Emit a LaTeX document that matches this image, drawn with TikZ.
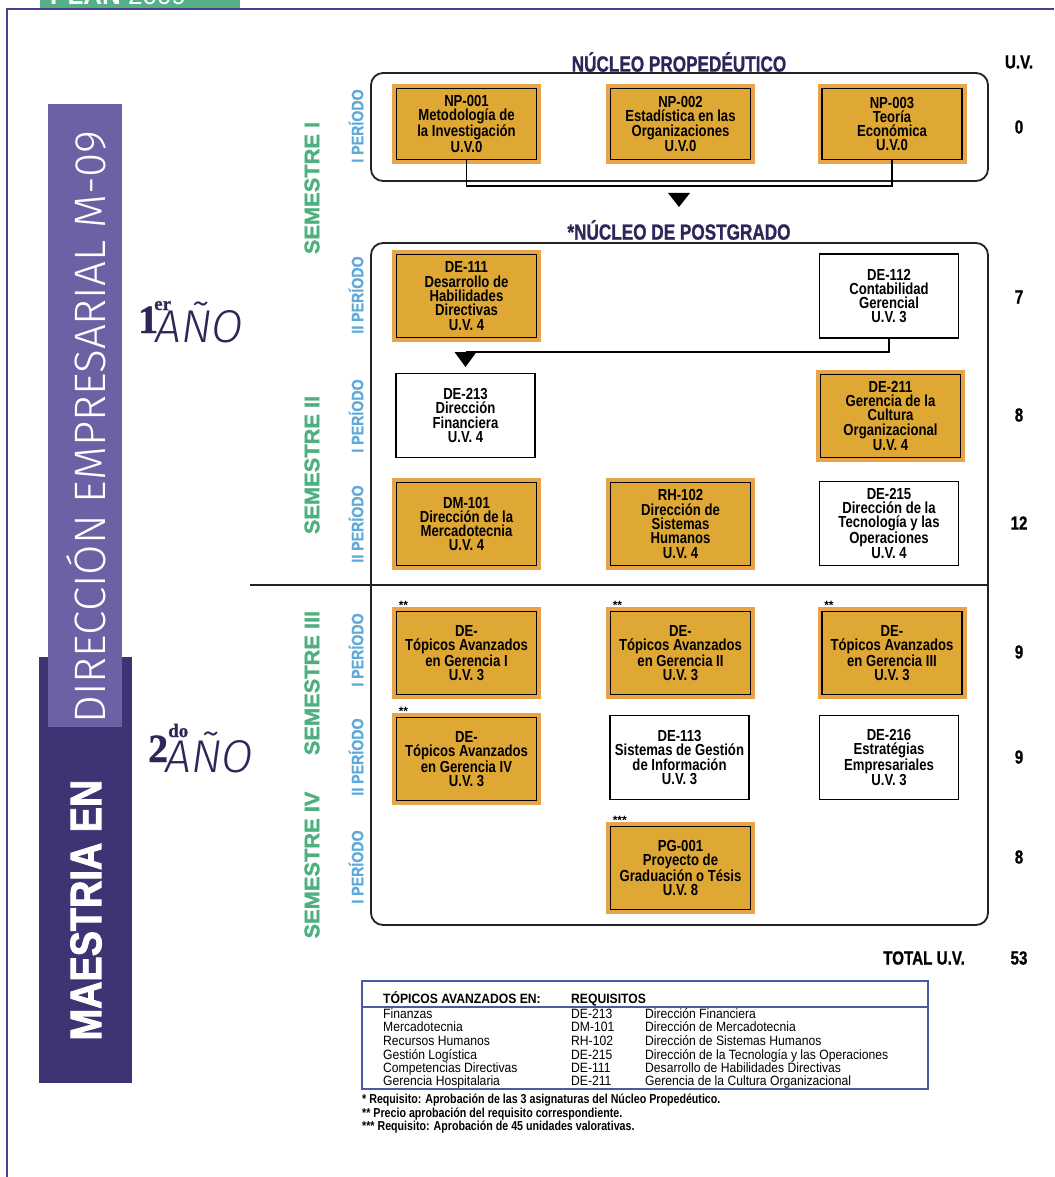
\documentclass[tikz,border=0pt]{standalone}
\usepackage{fontspec}
\usetikzlibrary{calc}
\setmainfont{Liberation Sans}
\newfontfamily\fCnd[FakeStretch=0.82]{Liberation Sans}
\newfontfamily\fTtl[FakeStretch=0.78,FakeBold=1]{Liberation Sans}
\newfontfamily\fUv[FakeStretch=0.80,FakeBold=0.8]{Liberation Sans}
\newfontfamily\fLeg[FakeStretch=0.90]{Liberation Sans}
\newfontfamily\fSem[FakeStretch=1.04,FakeBold=1.5]{Liberation Sans}
\newfontfamily\fPer[FakeStretch=0.86,FakeBold=1]{Liberation Sans}
\newfontfamily\fMae[FakeStretch=0.86,FakeBold=2]{Liberation Sans}
\newfontfamily\fThin{Fira Sans Light}
\newfontfamily\fThinIt{Fira Sans Light Italic}
\newfontfamily\fSer[FakeBold=1]{Liberation Serif}
\definecolor{orng}{HTML}{DFA835}
\definecolor{orngedge}{HTML}{E9A447}
\definecolor{semgreen}{HTML}{4DB07E}
\definecolor{perblue}{HTML}{5DA9DA}
\definecolor{dpurple}{HTML}{3E3474}
\definecolor{lpurple}{HTML}{6A62A5}
\definecolor{framec}{HTML}{4B3F91}
\definecolor{navy}{HTML}{2C2758}
\definecolor{legblue}{HTML}{4C5AA6}
\definecolor{tabgreen}{HTML}{55B185}
\definecolor{linec}{HTML}{222222}
\tikzset{
  boxtext/.style={align=center, inner sep=0pt, font=\fCnd\bfseries\fontsize{16}{14.3}\selectfont},
  obox/.style={boxtext, draw=black, line width=1.8pt, fill=orng, minimum width=140pt, minimum height=83pt,
    preaction={draw=orngedge, line width=9pt}},
  npbox/.style={obox, minimum height=71pt},
  wbox/.style={boxtext, draw=black, line width=1.8pt, fill=white, minimum width=139pt, minimum height=84pt},
  frameline/.style={draw=linec, line width=1.8pt},
  conn/.style={draw=black, line width=1.8pt},
  uv/.style={font=\fUv\bfseries\fontsize{19}{19}\selectfont, inner sep=0pt},
  semlbl/.style={rotate=90, text=semgreen, inner sep=0pt, font=\fSem\bfseries\fontsize{21}{21}\selectfont},
  perlbl/.style={rotate=90, text=perblue, inner sep=0pt, font=\fPer\bfseries\fontsize{16.5}{16.5}\selectfont},
  stars/.style={inner sep=0pt, font=\bfseries\fontsize{12}{12}\selectfont},
  legtxt/.style={anchor=north west, inner sep=0pt, font=\fLeg\fontsize{13.5}{12.3}\selectfont},
  title/.style={text=navy, inner sep=0pt, font=\fTtl\bfseries\fontsize{22}{22}\selectfont}
}
\begin{document}
\begin{tikzpicture}[x=1pt,y=-1pt]
\useasboundingbox (0,0) rectangle (1054,1177);
\fill[white] (0,0) rectangle (1054,1177);

% tab and frame
\fill[tabgreen] (40,-12) rectangle (240,8);
\node[anchor=base west, text=white, inner sep=0pt] (tab) at (50,5)
  {\fontsize{26}{26}\selectfont\bfseries PLAN \mdseries 2009};
\draw[framec, line width=2pt] (7,1177) -- (7,9) -- (1054,9);

% side bars
\fill[dpurple] (39,657) rectangle (132,1083);
\fill[lpurple] (48,104) rectangle (122,727);
\node[rotate=90, text=white, inner sep=0pt] (dir) at (86,427)
  {\fThin\fontsize{44}{44}\selectfont DIRECCIÓN EMPRESARIAL M-09};
\node[rotate=90, text=white, inner sep=0pt] (mae) at (86,910)
  {\fMae\bfseries\fontsize{44}{44}\selectfont MAESTRIA EN};

% years
\node[anchor=base west, inner sep=0pt, text=navy] (y1a) at (138,333) {\fSer\bfseries\fontsize{40}{40}\selectfont 1};
\node[anchor=base west, inner sep=0pt, text=navy] (y1b) at (154,310) {\fSer\bfseries\fontsize{19}{19}\selectfont er};
\node[anchor=base west, inner sep=0pt, text=navy] (y1c) at (155,342) {\fThinIt\fontsize{46}{46}\selectfont AÑO};
\node[anchor=base west, inner sep=0pt, text=navy] (y2a) at (148,762) {\fSer\bfseries\fontsize{40}{40}\selectfont 2};
\node[anchor=base west, inner sep=0pt, text=navy] (y2b) at (168,737) {\fSer\bfseries\fontsize{19}{19}\selectfont do};
\node[anchor=base west, inner sep=0pt, text=navy] (y2c) at (165,772) {\fThinIt\fontsize{46}{46}\selectfont AÑO};

% semester / period labels
\node[semlbl] (s1) at (312,188) {SEMESTRE I};
\node[semlbl] (s2) at (312,465) {SEMESTRE II};
\node[semlbl] (s3) at (312,683) {SEMESTRE III};
\node[semlbl] (s4) at (312,865) {SEMESTRE IV};
\node[perlbl] (p1) at (356,126) {I PERÍODO};
\node[perlbl] (p2) at (356,295) {II PERÍODO};
\node[perlbl] (p3) at (356,416) {I PERÍODO};
\node[perlbl] (p4) at (356,524) {II PERÍODO};
\node[perlbl] (p5) at (356,650) {I PERÍODO};
\node[perlbl] (p6) at (356,757) {II PERÍODO};
\node[perlbl] (p7) at (356,867) {I PERÍODO};

% titles
\node[title] (ttlA) at (679,62) {NÚCLEO PROPEDÉUTICO};
\node[title] (ttlB) at (679,230) {*NÚCLEO DE POSTGRADO};

% frames
\draw[frameline, rounded corners=12pt] (371,73) rectangle (988,181);
\draw[frameline, rounded corners=12pt] (371,243) rectangle (988,925);
\draw[frameline] (250,585) -- (988,585);

% courses
\node[npbox] (np1) at (466.5,124) {NP-001\\Metodología de\\la Investigación\\U.V.0};
\node[npbox] (np2) at (680.5,124) {NP-002\\Estadística en las\\Organizaciones\\U.V.0};
\node[npbox] (np3) at (892,124) {NP-003\\Teoría\\Económica\\U.V.0};

\node[obox] (de111) at (466.5,296) {DE-111\\Desarrollo de\\Habilidades\\Directivas\\U.V. 4};
\node[wbox] (de112) at (889,296) {DE-112\\Contabilidad\\Gerencial\\U.V. 3};

\node[wbox] (de213) at (465.5,415.5) {DE-213\\Dirección\\Financiera\\U.V. 4};
\node[obox] (de211) at (890.5,416) {DE-211\\Gerencia de la\\Cultura\\Organizacional\\U.V. 4};

\node[obox] (dm101) at (466.5,524) {DM-101\\Dirección de la\\Mercadotecnia\\U.V. 4};
\node[obox] (rh102) at (680.5,524) {RH-102\\Dirección de\\Sistemas\\Humanos\\U.V. 4};
\node[wbox] (de215) at (889,523.5) {DE-215\\Dirección de la\\Tecnología y las\\Operaciones\\U.V. 4};

\node[obox] (ta1) at (466.5,653) {DE-\\Tópicos Avanzados\\en Gerencia I\\U.V. 3};
\node[obox] (ta2) at (680.5,653) {DE-\\Tópicos Avanzados\\en Gerencia II\\U.V. 3};
\node[obox] (ta3) at (892,653) {DE-\\Tópicos Avanzados\\en Gerencia III\\U.V. 3};

\node[obox] (ta4) at (466.5,759) {DE-\\Tópicos Avanzados\\en Gerencia IV\\U.V. 3};
\node[wbox] (de113) at (679.5,757.5) {DE-113\\Sistemas de Gestión\\de Información\\U.V. 3};
\node[wbox] (de216) at (889,757.5) {DE-216\\Estratégias\\Empresariales\\U.V. 3};

\node[obox] (pg001) at (680.5,868) {PG-001\\Proyecto de\\Graduación o Tésis\\U.V. 8};

% stars
\node[stars, anchor=west] (st1) at ([xshift=3pt,yshift=5pt]ta1.north west) {**};
\node[stars, anchor=west] (st2) at ([xshift=3pt,yshift=5pt]ta2.north west) {**};
\node[stars, anchor=west] (st3) at ([xshift=3pt,yshift=5pt]ta3.north west) {**};
\node[stars, anchor=west] (st4) at ([xshift=3pt,yshift=5pt]ta4.north west) {**};
\node[stars, anchor=west] (st5) at ([xshift=3pt,yshift=5pt]pg001.north west) {***};

% connectors
\coordinate (j1) at (679,186);
\draw[conn] (np1.south) |- (j1) -| (np3.south);
\coordinate (a1) at (679,193);
\fill (a1) ++(-11,0) -- ++(22,0) -- ++(-11,14) -- cycle;
\coordinate (j2) at (de213.north |- 0,352);
\draw[conn] (de112.south) |- (j2);
\fill (j2) ++(-11,0) -- ++(22,0) -- ++(-11,15) -- cycle;

% U.V. column
\node[uv] (uvh) at (1019,62) {U.V.};
\node[uv] (uv1) at (1019,127) {0};
\node[uv] (uv2) at (1019,297) {7};
\node[uv] (uv3) at (1019,415) {8};
\node[uv] (uv4) at (1019,523) {12};
\node[uv] (uv5) at (1019,652) {9};
\node[uv] (uv6) at (1019,757) {9};
\node[uv] (uv7) at (1019,857) {8};
\node[uv] (tot) at (924,958) {TOTAL U.V.};
\node[uv] (uvt) at (1019,958) {53};

% legend
\draw[legblue, line width=1.4pt] (362,981) rectangle (928,1089);
\draw[legblue, line width=1.2pt] (362,1007) -- (928,1007);
\node[anchor=base west, inner sep=0pt, font=\fLeg\bfseries\fontsize{13.5}{13.5}\selectfont] (lh1) at (383,1003) {TÓPICOS AVANZADOS EN:};
\node[anchor=base west, inner sep=0pt, font=\fLeg\bfseries\fontsize{13.5}{13.5}\selectfont] (lh2) at (571,1003) {REQUISITOS};
\node[legtxt] (legrows) at (383,1008) {%
  \begin{tabular}{@{}p{188pt}@{}p{74pt}@{}l@{}}
  Finanzas & DE-213 & Dirección Financiera\\
  Mercadotecnia & DM-101 & Dirección de Mercadotecnia\\
  Recursos Humanos & RH-102 & Dirección de Sistemas Humanos\\
  Gestión Logística & DE-215 & Dirección de la Tecnología y las Operaciones\\
  Competencias Directivas & DE-111 & Desarrollo de Habilidades Directivas\\
  Gerencia Hospitalaria & DE-211 & Gerencia de la Cultura Organizacional
  \end{tabular}};

% footnotes
\node[anchor=north west, align=left, inner sep=0pt, font=\fCnd\bfseries\fontsize{13}{11}\selectfont] (fn) at (362,1094)
  {* Requisito: Aprobación de las 3 asignaturas del Núcleo Propedéutico.\\** Precio aprobación del requisito correspondiente.\\*** Requisito: Aprobación de 45 unidades valorativas.};
\end{tikzpicture}
\end{document}
